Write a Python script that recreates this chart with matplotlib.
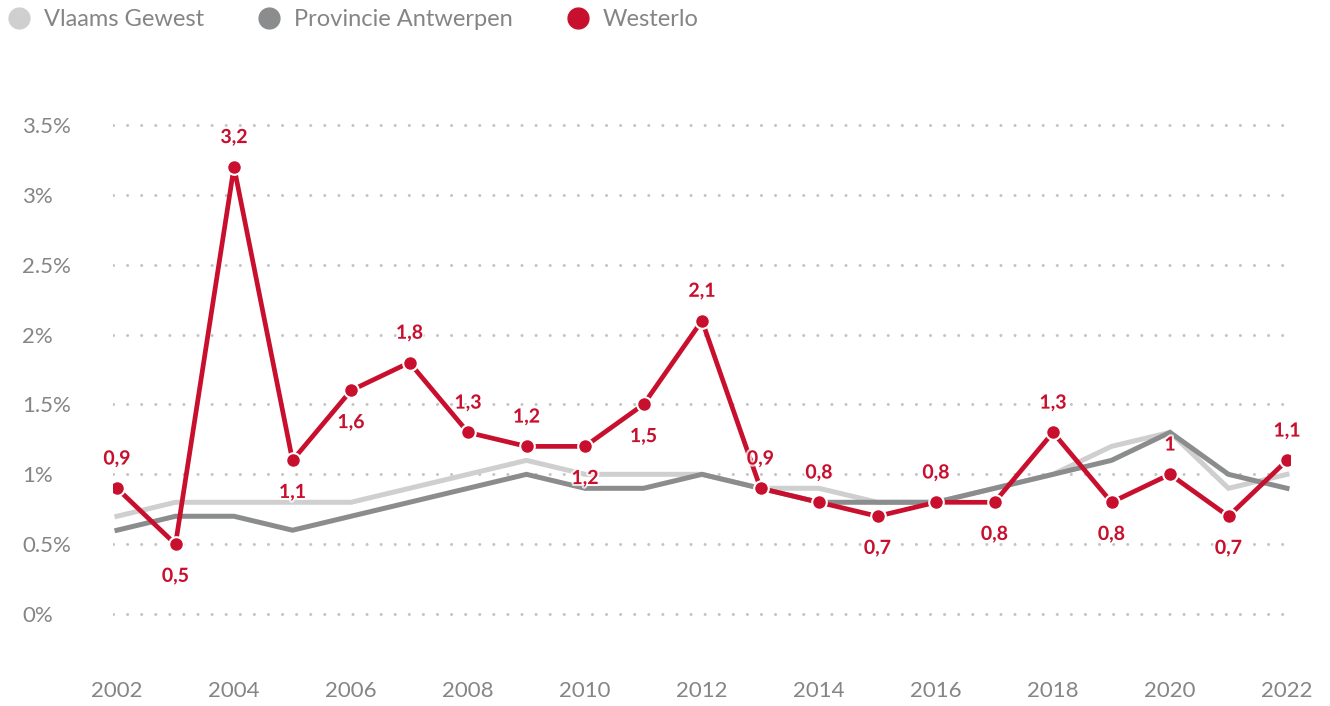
import matplotlib
matplotlib.use("Agg")
import matplotlib.pyplot as plt
import matplotlib.patheffects as pe
from matplotlib.lines import Line2D
from matplotlib.ticker import FuncFormatter

years = list(range(2002, 2023))
vlaams = [0.7, 0.8, 0.8, 0.8, 0.8, 0.9, 1.0, 1.1, 1.0, 1.0, 1.0, 0.9, 0.9, 0.8, 0.8, 0.9, 1.0, 1.2, 1.3, 0.9, 1.0]
antwerpen = [0.6, 0.7, 0.7, 0.6, 0.7, 0.8, 0.9, 1.0, 0.9, 0.9, 1.0, 0.9, 0.8, 0.8, 0.8, 0.9, 1.0, 1.1, 1.3, 1.0, 0.9]
westerlo = [0.9, 0.5, 3.2, 1.1, 1.6, 1.8, 1.3, 1.2, 1.2, 1.5, 2.1, 0.9, 0.8, 0.7, 0.8, 0.8, 1.3, 0.8, 1.0, 0.7, 1.1]
label_pos = ['a', 'b', 'a', 'b', 'b', 'a', 'a', 'a', 'b', 'b', 'a', 'a', 'a', 'b', 'a', 'b', 'a', 'b', 'a', 'b', 'a']
series_names = ["Vlaams Gewest", "Provincie Antwerpen", "Westerlo"]
yticks = [0, 0.5, 1, 1.5, 2, 2.5, 3, 3.5]
xticks = list(range(2002, 2023, 2))

c_light = "#cfcfcf"
c_dark = "#8a8c8e"
c_red = "#c8102e"
c_text = "#858585"

plt.rcParams['font.family'] = ['Lato', 'DejaVu Sans']

fig = plt.figure(figsize=(13.3, 7.06), dpi=100)
W, H = 1330, 706
ax_left, ax_right = 113, 1290
ax_top, ax_bottom = 111, 656
ax = fig.add_axes([ax_left / W, 1 - ax_bottom / H, (ax_right - ax_left) / W, (ax_bottom - ax_top) / H])

ax.set_xlim(2002 - 4 / 58.5, 2022 + 3 / 58.5)
ax.set_ylim(-0.3, 3.6)

for s in ax.spines.values():
    s.set_visible(False)

for yv in yticks:
    ax.axhline(yv, color="#c4c4c4", lw=2.2, linestyle=(0, (0.01, 4.6)), dash_capstyle='round', zorder=0)

ax.plot(years, vlaams, color=c_light, lw=3.6, solid_joinstyle='miter', zorder=2)
ax.plot(years, antwerpen, color=c_dark, lw=3.6, solid_joinstyle='miter', zorder=3)
ax.plot(years, westerlo, color=c_red, lw=3.4, zorder=4)
ax.plot(years, westerlo, linestyle='none', marker='o', markersize=10.5, markerfacecolor=c_red,
        markeredgecolor='white', markeredgewidth=1.5, zorder=5)

for x, v, p in zip(years, westerlo, label_pos):
    txt = f"{v:g}".replace('.', ',')
    dy = 15 if p == 'a' else -17
    va = 'bottom' if p == 'a' else 'top'
    ax.annotate(txt, (x, v), xytext=(0, dy), textcoords='offset points', ha='center', va=va,
                color=c_red, fontsize=14, fontweight='bold', zorder=6,
                path_effects=[pe.withStroke(linewidth=3, foreground='white', alpha=0.75)])

ax.set_yticks(yticks)
ax.yaxis.set_major_formatter(FuncFormatter(lambda v, p: f"{v:g}%"))
ax.set_xticks(xticks)
ax.tick_params(axis='both', length=0, labelsize=16, labelcolor=c_text)
ax.tick_params(axis='x', pad=18)
ax.tick_params(axis='y', pad=0)
for lab in ax.get_yticklabels():
    lab.set_horizontalalignment('left')
    lab.set_x(-91 / (ax_right - ax_left))

handles = [Line2D([], [], linestyle='none', marker='o', markersize=15, markerfacecolor=c, markeredgecolor=c)
           for c in (c_light, c_dark, c_red)]
leg = fig.legend(handles, series_names, loc='upper left', bbox_to_anchor=(-0.005, 1.007), ncol=3, frameon=False,
                 handlelength=1.0, handletextpad=0.55, columnspacing=2.25, fontsize=17, borderaxespad=0.2)
for t in leg.get_texts():
    t.set_color(c_text)

fig.savefig("out.png", dpi=100)
